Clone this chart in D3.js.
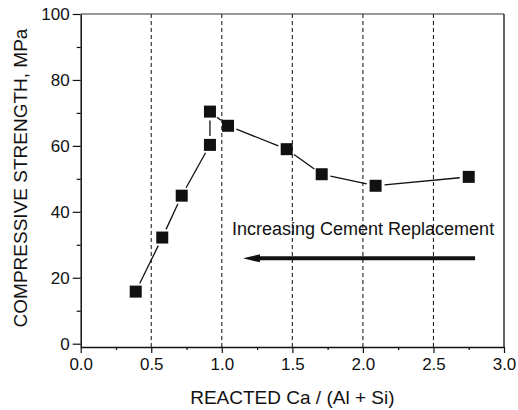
<!DOCTYPE html>
<html>
<head>
<meta charset="utf-8">
<script src="https://cdn.jsdelivr.net/npm/d3@7"></script>
<style>
  body { margin: 0; background: #fff; }
  text { font-family: "Liberation Sans", Arial, sans-serif; fill: #111; }
</style>
</head>
<body>
<script>
// data
let ratio = [0.39, 0.578, 0.716, 0.916, 0.916, 1.044, 1.46, 1.708, 2.09, 2.75];
let strength = [15.8, 32.2, 44.9, 60.3, 70.4, 66.1, 59.0, 51.4, 47.9, 50.6];
let xTicks = [0, 0.5, 1.0, 1.5, 2.0, 2.5, 3.0];
let yTicks = [0, 20, 40, 60, 80, 100];
let gridAt = [0.5, 1.0, 1.5, 2.0, 2.5];
let arrowFrom = [2.795, 25.9];
let arrowTo = [1.15, 25.9];

let width_chart = 518, height_chart = 410;
let plot = { left: 80.7, right: 504, top: 14, bottom: 347 };

let svg = d3.select('body').append('svg')
    .attr('width', width_chart)
    .attr('height', height_chart);

let x = d3.scaleLinear().domain([0, 3]).range([plot.left, plot.right]);
let y = d3.scaleLinear().domain([-1, 100]).range([plot.bottom, plot.top]);

// dashed verticals
svg.append('g').selectAll('line')
    .data(gridAt)
    .enter().append('line')
    .attr('x1', d => x(d)).attr('x2', d => x(d))
    .attr('y1', plot.top).attr('y2', plot.bottom)
    .attr('stroke', '#222')
    .attr('stroke-width', 1.1)
    .attr('stroke-dasharray', '4,3');

// frame top and right
svg.append('line').attr('x1', plot.left).attr('x2', plot.right).attr('y1', plot.top).attr('y2', plot.top)
    .attr('stroke', '#333').attr('stroke-width', 1);
svg.append('line').attr('x1', plot.right).attr('x2', plot.right).attr('y1', plot.top).attr('y2', plot.bottom)
    .attr('stroke', '#222').attr('stroke-width', 1.4);

// minor ticks
svg.append('g')
    .attr('transform', 'translate(' + plot.left + ',0)')
    .call(d3.axisLeft(y).tickValues(d3.range(10, 100, 20)).tickSize(4).tickFormat(''))
    .call(g => g.select('.domain').remove());
svg.append('g')
    .attr('transform', 'translate(0,' + plot.bottom + ')')
    .call(d3.axisBottom(x).tickValues(d3.range(0.25, 3, 0.5)).tickSize(3).tickFormat(''))
    .call(g => g.select('.domain').remove());

// y axis
let yAxis = svg.append('g')
    .attr('transform', 'translate(' + plot.left + ',0)')
    .call(d3.axisLeft(y).tickValues(yTicks).tickSize(8).tickPadding(3).tickSizeOuter(0));
yAxis.selectAll('text').style('font-size', '17px');

// x axis
let xAxis = svg.append('g')
    .attr('transform', 'translate(0,' + plot.bottom + ')')
    .call(d3.axisBottom(x).tickValues(xTicks).tickSize(6).tickPadding(5).tickSizeOuter(0)
        .tickFormat(d3.format('.1f')));
xAxis.selectAll('text').style('font-size', '17px');

svg.selectAll('.domain').attr('stroke-width', 1.5).attr('stroke', '#111');
svg.selectAll('.tick line').attr('stroke', '#111').attr('stroke-width', 1.2);

// axis titles
svg.append('text')
    .attr('transform', 'translate(20,178) rotate(-90)')
    .attr('text-anchor', 'middle')
    .attr('dominant-baseline', 'central')
    .style('font-size', '19px')
    .text('COMPRESSIVE STRENGTH, MPa');

svg.append('text')
    .attr('x', (plot.left + plot.right) / 2)
    .attr('y', 404)
    .attr('text-anchor', 'middle')
    .style('font-size', '19px')
    .text('REACTED Ca / (Al + Si)');

// connecting segments with a gap at each symbol
let pts = ratio.map((r, i) => [x(r), y(strength[i])]);
let gap = 9;
let segs = [];
for (let i = 0; i < pts.length - 1; i++) {
    let a = pts[i], b = pts[i + 1];
    let dx = b[0] - a[0], dy = b[1] - a[1];
    let len = Math.sqrt(dx * dx + dy * dy);
    if (len <= 2 * gap) continue;
    let ux = dx / len, uy = dy / len;
    segs.push([a[0] + ux * gap, a[1] + uy * gap, b[0] - ux * gap, b[1] - uy * gap]);
}
svg.append('g').selectAll('line')
    .data(segs)
    .enter().append('line')
    .attr('x1', d => d[0]).attr('y1', d => d[1])
    .attr('x2', d => d[2]).attr('y2', d => d[3])
    .attr('stroke', '#111')
    .attr('stroke-width', 1.3);

// square symbols
let sz = 12;
svg.append('g').selectAll('rect')
    .data(ratio)
    .enter().append('rect')
    .attr('x', (d) => x(d) - sz / 2)
    .attr('y', (d, i) => y(strength[i]) - sz / 2)
    .attr('width', sz)
    .attr('height', sz)
    .attr('fill', '#111');

// annotation
svg.append('text')
    .attr('x', 232)
    .attr('y', 235)
    .style('font-size', '18px')
    .text('Increasing Cement Replacement');

let ax0 = x(arrowFrom[0]), ax1 = x(arrowTo[0]), ay = y(arrowFrom[1]);
svg.append('line')
    .attr('x1', ax0).attr('x2', ax1 + 14)
    .attr('y1', ay).attr('y2', ay)
    .attr('stroke', '#111')
    .attr('stroke-width', 4);
svg.append('path')
    .attr('d', 'M' + ax1 + ',' + ay + 'L' + (ax1 + 17) + ',' + (ay - 4) + 'L' + (ax1 + 17) + ',' + (ay + 4) + 'Z')
    .attr('fill', '#111');
</script>
</body>
</html>
